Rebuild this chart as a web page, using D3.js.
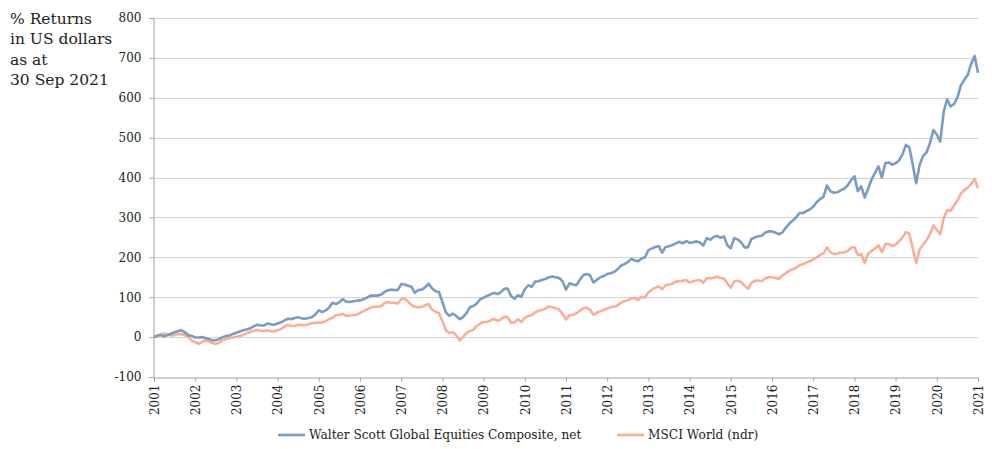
<!DOCTYPE html>
<html lang="en">
<head>
    <meta charset="UTF-8">
    <title>Walter Scott Global Equities vs MSCI World</title>
    <style>
        body {
            margin: 0;
            padding: 0;
            background-color: #ffffff;
        }
        svg text {
            font-family: "DejaVu Serif", "Liberation Serif", serif;
            fill: #222222;
        }
    </style>
    <script src="https://cdn.jsdelivr.net/npm/d3@7"></script>
</head>
<body>
    <script>
        const width = 992;
        const height = 449;

        // tick labels on the x axis (one per year, 12 monthly points apart)
        const yearLabels = ["2001", "2002", "2003", "2004", "2005", "2006", "2007", "2008", "2009", "2010",
            "2011", "2012", "2013", "2014", "2015", "2016", "2017", "2018", "2019", "2020", "2021"];
        const yTicks = [-100, 0, 100, 200, 300, 400, 500, 600, 700, 800];
        const seriesNames = ["Walter Scott Global Equities Composite, net", "MSCI World (ndr)"];
        const titleLines = ["% Returns", "in US dollars", "as at", "30 Sep 2021"];

        // cumulative % returns, monthly
        const walterScott = [
            0, 4, 5, 2, 5, 9, 12, 15, 17, 12, 5, 3,
            -1, -1, 0, -2, -5, -8, -8, -5, 0, 3, 4, 8,
            11, 14, 17, 19, 22, 27, 31, 29, 29, 34, 32, 31,
            34, 37, 42, 46, 45, 48, 50, 47, 46, 48, 50, 57,
            67, 63, 67, 74, 86, 83, 88, 95, 89, 88, 90, 91,
            92, 95, 99, 104, 104, 104, 106, 112, 117, 119, 118, 118,
            133, 132, 129, 126, 111, 118, 119, 125, 134, 122, 115, 113,
            88, 62, 53, 59, 53, 45, 50, 60, 75, 78, 84, 95,
            99, 103, 107, 111, 108, 112, 121, 122, 103, 96, 105, 101,
            120, 130, 126, 139, 140, 143, 146, 150, 152, 150, 148, 140,
            119, 135, 132, 130, 143, 155, 158, 155, 137, 144, 150, 153,
            158, 160, 163, 170, 179, 183, 188, 196, 192, 190, 197, 200,
            218, 222, 226, 228, 212, 226, 228, 231, 235, 239, 235, 241,
            236, 238, 240, 237, 230, 248, 244, 251, 254, 249, 252, 230,
            223, 248, 245, 238, 225, 225, 246, 250, 253, 254, 262, 265,
            265, 262, 258, 262, 274, 284, 292, 300, 311, 311, 316, 320,
            327, 338, 346, 352, 380, 366, 362, 363, 368, 372, 380, 393,
            403, 366, 378, 350, 372, 395, 412, 428, 400, 436, 438, 432,
            436, 443, 458, 482, 476, 432, 386, 432, 454, 463, 486, 519,
            508, 490, 565, 596, 578, 584, 600, 631, 645, 657, 685, 705,
            663
        ];
        const msciWorld = [
            -1, 3, 7, 9, 7, 4, 5, 8, 7, 5, 0, -9,
            -12, -17, -12, -8, -11, -15, -17, -14, -8, -5, -2, -1,
            1, 3, 6, 10, 13, 16, 18, 16, 15, 17, 15, 14,
            17, 20, 26, 31, 28, 28, 31, 30, 30, 32, 35, 36,
            36, 37, 40, 45, 49, 55, 56, 58, 53, 54, 55, 56,
            60, 65, 69, 74, 76, 76, 77, 84, 88, 86, 86, 84,
            95, 97, 89, 80, 76, 74, 76, 80, 83, 69, 64, 60,
            40, 17, 11, 12, 5, -8, 0, 10, 16, 18, 28, 34,
            38, 38, 42, 46, 41, 44, 51, 50, 36, 37, 45, 38,
            48, 53, 55, 62, 66, 68, 71, 77, 75, 72, 69, 58,
            44, 55, 56, 59, 66, 72, 74, 69, 56, 61, 65, 68,
            72, 75, 76, 79, 86, 90, 92, 97, 98, 93, 101, 99,
            112, 119, 124, 127, 120, 130, 132, 134, 139, 140, 141, 143,
            137, 140, 142, 143, 136, 148, 147, 149, 152, 148, 147, 135,
            124, 140, 141, 138, 129, 121, 136, 141, 142, 140, 147, 150,
            150, 148, 146, 155, 160, 166, 170, 174, 180, 183, 187, 190,
            195, 200, 206, 210, 225, 213, 208, 209, 212, 212, 216, 224,
            226, 206, 208, 186, 209, 216, 222, 230, 213, 233, 233, 228,
            232, 240, 250, 263, 259, 222, 186, 220, 232, 243, 258, 280,
            269, 258, 298, 318, 317, 330, 342, 360, 368, 375, 384, 396,
            374
        ];

        const colors = ["#7a9bc4", "#f9ae98"];

        const margin = { top: 18, right: 14, bottom: 72, left: 154 };

        const svg = d3.select("body").append("svg")
            .attr("width", width)
            .attr("height", height);

        const x = d3.scaleLinear()
            .domain([0, walterScott.length - 1])
            .range([margin.left, width - margin.right]);

        const y = d3.scaleLinear()
            .domain([-100, 800])
            .range([height - margin.bottom, margin.top]);

        // gridlines
        svg.append("g")
            .selectAll("line")
            .data(yTicks.slice(1))
            .enter().append("line")
            .attr("x1", x(0))
            .attr("x2", x(walterScott.length - 1))
            .attr("y1", d => Math.round(y(d)) + 0.5)
            .attr("y2", d => Math.round(y(d)) + 0.5)
            .attr("stroke", "#d4d4d4")
            .attr("stroke-width", 1);

        // y axis
        const yAxis = svg.append("g")
            .attr("transform", `translate(${margin.left - 0.5},0)`)
            .call(d3.axisLeft(y).tickValues(yTicks).tickSize(4).tickPadding(8).tickFormat(d => String(d)));
        yAxis.select(".domain").attr("stroke", "#a0a0a0");
        yAxis.selectAll(".tick line").attr("stroke", "#a0a0a0");
        yAxis.selectAll(".tick text")
            .attr("font-family", "DejaVu Serif, serif")
            .attr("font-size", 12)
            .attr("fill", "#222");

        // x axis
        const xAxis = svg.append("g")
            .attr("transform", `translate(0,${Math.round(y(-100)) + 0.5})`)
            .call(d3.axisBottom(x)
                .tickValues(yearLabels.map((d, i) => i * 12))
                .tickSize(4)
                .tickFormat((d, i) => yearLabels[i]));
        xAxis.select(".domain").attr("stroke", "#a0a0a0");
        xAxis.selectAll(".tick line").attr("stroke", "#a0a0a0");
        xAxis.selectAll(".tick text")
            .attr("font-family", "DejaVu Serif, serif")
            .attr("font-size", 12)
            .attr("fill", "#222")
            .attr("text-anchor", "end")
            .attr("transform", "rotate(-90)")
            .attr("x", -7)
            .attr("y", 0)
            .attr("dy", "0.35em");

        // lines
        const line = d3.line()
            .x((d, i) => x(i))
            .y(d => y(d));

        [msciWorld, walterScott].forEach(function(series, k) {
            svg.append("path")
                .datum(series)
                .attr("fill", "none")
                .attr("stroke", k === 0 ? colors[1] : colors[0])
                .attr("stroke-width", 2.6)
                .attr("stroke-linejoin", "round")
                .attr("d", line);
        });

        // title at the top left
        svg.append("text")
            .attr("x", 10)
            .attr("y", 24)
            .attr("font-size", 15.5)
            .selectAll("tspan")
            .data(titleLines)
            .enter().append("tspan")
            .attr("x", 10)
            .attr("dy", (d, i) => i === 0 ? 0 : 20.3)
            .text(d => d);

        // legend
        const legendItems = [
            { name: seriesNames[0], color: colors[0], x: 278 },
            { name: seriesNames[1], color: colors[1], x: 617 }
        ];
        const legend = svg.append("g").selectAll("g")
            .data(legendItems)
            .enter().append("g")
            .attr("transform", d => `translate(${d.x},435)`);
        legend.append("line")
            .attr("x1", 0).attr("x2", 27)
            .attr("stroke", d => d.color)
            .attr("stroke-width", 2.6);
        legend.append("text")
            .attr("x", 31)
            .attr("dy", "0.35em")
            .attr("font-size", 12.2)
            .text(d => d.name);
    </script>
</body>
</html>
